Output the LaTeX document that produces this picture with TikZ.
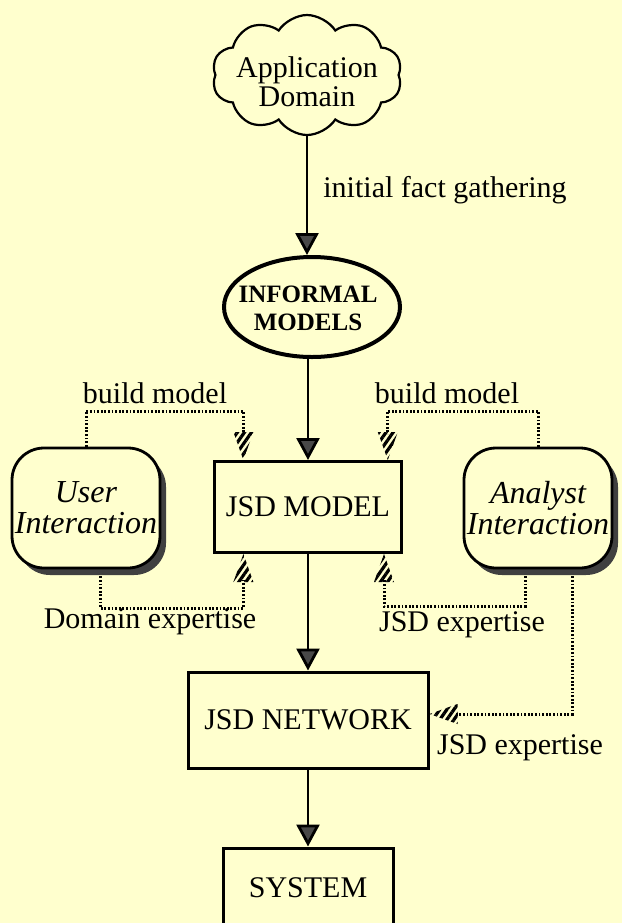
\documentclass[tikz,border=0pt]{standalone}
\usepackage{fontspec}
\setmainfont{Liberation Serif}
\usetikzlibrary{arrows.meta,calc,shapes.symbols,shapes.geometric,shadows,patterns.meta}
\definecolor{paper}{RGB}{255,255,206}
\definecolor{tipgray}{RGB}{72,72,72}

\begin{document}
\begin{tikzpicture}[x=0.5pt,y=-0.5pt,
    every node/.style={inner sep=0pt,font=\fontsize{15}{14.5}\selectfont},
    flow/.style={line width=1.4pt,-{Triangle[length=11pt,width=11.5pt,fill=tipgray]}},
    hint/.style={line width=1.5pt,dash pattern=on 0.9pt off 0.9pt},
    box/.style={draw,line width=1.5pt,fill=paper},
    interact/.style={draw,line width=1.4pt,fill=paper,rounded corners=16pt,
        minimum width=74pt,minimum height=60pt,align=center,
        font=\fontsize{16}{15.5}\selectfont\itshape,
        drop shadow={shadow xshift=3pt,shadow yshift=-3.5pt,fill=black!75,opacity=1}},
    pics/hatchtip/.style={code={
        \path[pattern={Lines[angle=55,distance=2.9pt,line width=1.6pt]}]
            (0,0) -- (-10,-28) -- (10,-28) -- cycle;}}]
    \fill[paper] (0,0) rectangle (622,923);
    \useasboundingbox (0,0) rectangle (622,923);
    \clip (0,0) rectangle (622,923);

    % main chain
    \node[cloud,draw,line width=1.1pt,cloud puffs=10,cloud puff arc=115,
          minimum width=95pt,minimum height=60pt] (domain) at (307,75) {};
    \node[align=center] (domaintext) at (307,82) {Application\\Domain};
    \node[ellipse,draw,line width=2pt,minimum width=88pt,minimum height=50pt] (informal) at (312,307) {};
    \node[align=center,font=\bfseries\fontsize{12.5}{14}\selectfont] (informaltext) at (308,308) {INFORMAL\\MODELS};
    \node[box,minimum width=93.5pt,minimum height=45.5pt] (model) at (308,507) {JSD MODEL};
    \node[box,minimum width=120pt,minimum height=48pt] (network) at (308,720) {JSD NETWORK};
    \node[box,minimum width=85pt,minimum height=40pt] (system) at (308,888) {SYSTEM};

    \node[interact] (user) at (86,508) {User\\Interaction};
    \node[interact] (analyst) at (538,508) {Analyst\\Interaction};

    \draw[flow] (domain.south) -- (domain.south |- informal.north);
    \draw[flow] (informal.south -| model.north) -- (model.north);
    \draw[flow] (model.south) -- (network.north);
    \draw[flow] (network.south) -- (system.north);
    \node[anchor=west] (gather) at (323,190) {initial fact gathering};

    % feedback into the model
    \coordinate (mtl) at ($(model.north west)!.16!(model.north east)$);
    \coordinate (mtr) at ($(model.north west)!.92!(model.north east)$);
    \coordinate (mbl) at ($(model.south west)!.16!(model.south east)$);
    \coordinate (mbr) at ($(model.south west)!.9!(model.south east)$);

    \draw[hint] (user.north) |- ($(mtl)+(0,-49)$) -- ($(mtl)+(0,-26)$);
    \pic at (mtl) {hatchtip};
    \draw[hint] (analyst.north) |- ($(mtr)+(0,-49)$) -- ($(mtr)+(0,-26)$);
    \pic at (mtr) {hatchtip};
    \draw[hint] ($(user.south)+(14,7)$) |- ($(mbl)+(0,54)$) -- ($(mbl)+(0,26)$);
    \pic[rotate=180] at (mbl) {hatchtip};
    \draw[hint] ($(analyst.south)+(-13,7)$) |- ($(mbr)+(0,52)$) -- ($(mbr)+(0,26)$);
    \pic[rotate=180] at (mbr) {hatchtip};
    \draw[hint] ($(analyst.south)+(34,7)$) |- ($(network.east)+(26,-6)$);
    \pic[rotate=-90] at ($(network.east)+(0,-6)$) {hatchtip};

    \node (bml) at (155,393) {build model};
    \node (bmr) at (447,393) {build model};
    \node (dex) at (150,622) {Domain expertise};
    \node (jex) at (462,625) {JSD expertise};
    \node (jnx) at (520,748) {JSD expertise};
\end{tikzpicture}
\end{document}
